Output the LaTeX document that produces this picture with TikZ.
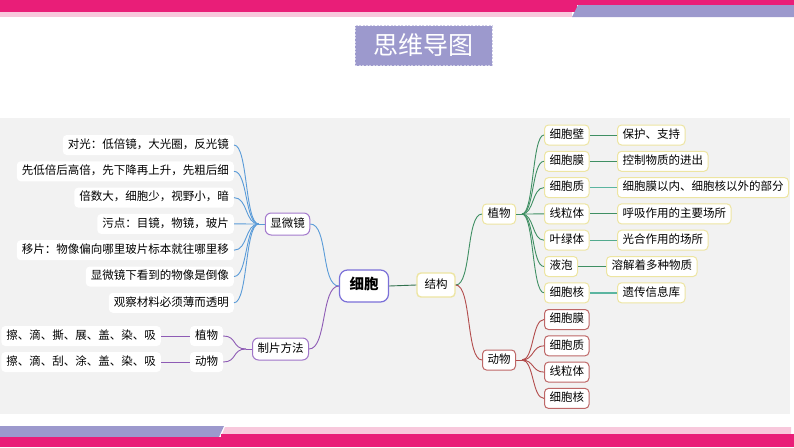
\documentclass[tikz,border=0pt]{standalone}
\usepackage{fontspec}
\setmainfont{Noto Sans CJK SC}
\usetikzlibrary{positioning}

\definecolor{rose}{HTML}{E91E78}
\definecolor{blush}{HTML}{F8C8DC}
\definecolor{banner}{HTML}{9C99CD}
\definecolor{panel}{HTML}{F2F2F2}
\definecolor{inkblue}{HTML}{5A9BD8}
\definecolor{lilac}{HTML}{A47ACD}
\definecolor{plum}{HTML}{8E5BB5}
\definecolor{periwinkle}{HTML}{7B70D8}
\definecolor{straw}{HTML}{EDE5A2}
\definecolor{leafgreen}{HTML}{3F8F63}
\definecolor{teal}{HTML}{5BB5A0}
\definecolor{brick}{HTML}{B24C4C}

\tikzset{
  leaf/.style={rectangle, fill=white, rounded corners=4pt,
               minimum height=20pt, inner xsep=5pt, inner ysep=0pt,
               text height=0.82em, text depth=0.18em,
               font=\fontsize{11.5}{13}\selectfont},
  topic/.style={leaf, draw, line width=1pt},
  plantbox/.style={topic, draw=straw},
  animalbox/.style={topic, draw=brick!85},
  link/.style={line width=0.9pt},
  curl/.style={to path={.. controls +(#1,0) and +(-#1,0) .. (\tikztotarget)}}
}

\begin{document}
\begin{tikzpicture}[x=1pt, y=-1pt]
\useasboundingbox (0,0) rectangle (794,447);

% top and bottom bands
\fill[rose] (0,0) rectangle (794,5);
\fill[rose] (0,0) rectangle (577,12);
\fill[blush] (0,12) rectangle (572,17);
\fill[banner] (578,5) -- (794,5) -- (794,17) -- (572,17) -- cycle;
\fill[banner] (0,426) -- (224,426) -- (219,437) -- (0,437) -- cycle;
\fill[blush] (225,427) -- (791,427) -- (791,434) -- (222,434) -- cycle;
\fill[rose] (221,434) rectangle (794,437);
\fill[rose] (0,437) rectangle (794,447);

% title
\node[fill=banner, draw=white!55!banner, dash pattern=on 2pt off 1.5pt,
      minimum width=137pt, minimum height=40pt, inner sep=0pt,
      text=white, font=\fontsize{25}{28}\selectfont] (Title) at (423.5,45.5) {思维导图};

% grey panel
\fill[panel] (0,118) rectangle (790,414);

% Centre
\node[topic, draw=periwinkle, line width=1.2pt, rounded corners=8pt,
      minimum width=49pt, minimum height=32pt,
      font=\fontsize{14.5}{16}\bfseries] (Cell) at (364,286) {细胞};
\node[plantbox, line width=1.4pt, minimum width=38pt, minimum height=24pt] (Structure) at (436,285) {结构};

% Left branch: microscope
\node[topic, draw=lilac, rounded corners=6pt, minimum height=22pt] (Microscope) at (287.5,224) {显微镜};
\node[leaf, anchor=east] (Light) at (234,145) {对光：低倍镜，大光圈，反光镜};
\node[leaf, anchor=east] (Focus) at (234,171.3) {先低倍后高倍，先下降再上升，先粗后细};
\node[leaf, anchor=east] (Zoom) at (234,197.6) {倍数大，细胞少，视野小，暗};
\node[leaf, anchor=east] (Spot) at (234,223.9) {污点：目镜，物镜，玻片};
\node[leaf, anchor=east] (Move) at (234,250.2) {移片：物像偏向哪里玻片标本就往哪里移};
\node[leaf, anchor=east] (Invert) at (234,276.5) {显微镜下看到的物像是倒像};
\node[leaf, anchor=east] (Thin) at (234,302.8) {观察材料必须薄而透明};

% Left branch: slide making
\node[topic, draw=lilac!80!plum, rounded corners=6pt, minimum height=22pt] (SlideMethod) at (280.5,349) {制片方法};
\node[leaf] (PlantL) at (206.5,336) {植物};
\node[leaf] (AnimalL) at (206.5,362) {动物};
\node[leaf, anchor=east] (PlantSteps) at (161,336) {擦、滴、撕、展、盖、染、吸};
\node[leaf, anchor=east] (AnimalSteps) at (161,362) {擦、滴、刮、涂、盖、染、吸};

% Right branch: plant cell
\node[plantbox] (PlantR) at (499,214) {植物};
\node[plantbox, anchor=west] (WallP) at (544,135) {细胞壁};
\node[plantbox, anchor=west] (MembP) at (544,161.3) {细胞膜};
\node[plantbox, anchor=west] (CytoP) at (544,187.6) {细胞质};
\node[plantbox, anchor=west] (MitoP) at (544,213.9) {线粒体};
\node[plantbox, anchor=west] (ChloP) at (544,240.2) {叶绿体};
\node[plantbox, anchor=west] (VacP) at (544,266.5) {液泡};
\node[plantbox, anchor=west] (NucP) at (544,292.8) {细胞核};
\node[plantbox, anchor=west] (WallF) at (617,135) {保护、支持};
\node[plantbox, anchor=west] (MembF) at (617,161.3) {控制物质的进出};
\node[plantbox, anchor=west] (CytoF) at (617,187.6) {细胞膜以内、细胞核以外的部分};
\node[plantbox, anchor=west] (MitoF) at (617,213.9) {呼吸作用的主要场所};
\node[plantbox, anchor=west] (ChloF) at (617,240.2) {光合作用的场所};
\node[plantbox, anchor=west] (VacF) at (606,266.5) {溶解着多种物质};
\node[plantbox, anchor=west] (NucF) at (617,292.8) {遗传信息库};

% Right branch: animal cell
\node[animalbox] (AnimalR) at (499,360) {动物};
\node[animalbox, anchor=west] (MembA) at (544,319.5) {细胞膜};
\node[animalbox, anchor=west] (CytoA) at (544,345.8) {细胞质};
\node[animalbox, anchor=west] (MitoA) at (544,372.1) {线粒体};
\node[animalbox, anchor=west] (NucA) at (544,398.4) {细胞核};

% hubs
\coordinate (MicroHub) at ([xshift=-6pt]Microscope.west);
\coordinate (SlideHub) at ([xshift=-6pt]SlideMethod.west);
\coordinate (PlantHub) at ([xshift=6pt]PlantR.east);
\coordinate (AnimalHub) at ([xshift=6pt]AnimalR.east);

% --- Connections ---
% centre -> branches
\draw[link, inkblue] (Cell.west) to[curl=-18] (Microscope.east);
\draw[link, plum] (Cell.west) to[curl=-18] (SlideMethod.east);
\draw[link, leafgreen!80!black] (Cell.east) -- (Structure.west);
\draw[link, leafgreen] (Structure.east) to[curl=16] (PlantR.west);
\draw[link, brick] (Structure.east) to[curl=16] (AnimalR.west);

% microscope -> tips
\draw[link, inkblue] (Microscope.west) -- (MicroHub);
\foreach \tip in {Light, Focus, Zoom, Spot, Move, Invert, Thin}
  \draw[link, inkblue] (MicroHub) to[curl=-14] (\tip.east);

% slide making
\draw[link, plum] (SlideMethod.west) -- (SlideHub);
\draw[link, plum] (SlideHub) to[curl=-14] (PlantL.east);
\draw[link, plum] (SlideHub) to[curl=-14] (AnimalL.east);
\draw[link, plum] (PlantSteps.east) -- (PlantL.west);
\draw[link, plum] (AnimalSteps.east) -- (AnimalL.west);

% plant parts
\draw[link, leafgreen] (PlantR.east) -- (PlantHub);
\foreach \part in {WallP, MembP, CytoP, MitoP, ChloP, VacP, NucP}
  \draw[link, leafgreen] (PlantHub) to[curl=12] (\part.west);
\draw[link, leafgreen] (WallP.east) -- (WallF.west);
\draw[link, leafgreen] (MembP.east) -- (MembF.west);
\draw[link, teal, line width=1.4pt] (CytoP.east) -- (CytoF.west);
\draw[link, leafgreen] (MitoP.east) -- (MitoF.west);
\draw[link, teal!70!leafgreen, line width=1.2pt] (ChloP.east) -- (ChloF.west);
\draw[link, leafgreen] (VacP.east) -- (VacF.west);
\draw[link, teal, line width=1.4pt] (NucP.east) -- (NucF.west);

% animal parts
\draw[link, brick] (AnimalR.east) -- (AnimalHub);
\foreach \part in {MembA, CytoA, MitoA, NucA}
  \draw[link, brick] (AnimalHub) to[curl=12] (\part.west);

\end{tikzpicture}
\end{document}
